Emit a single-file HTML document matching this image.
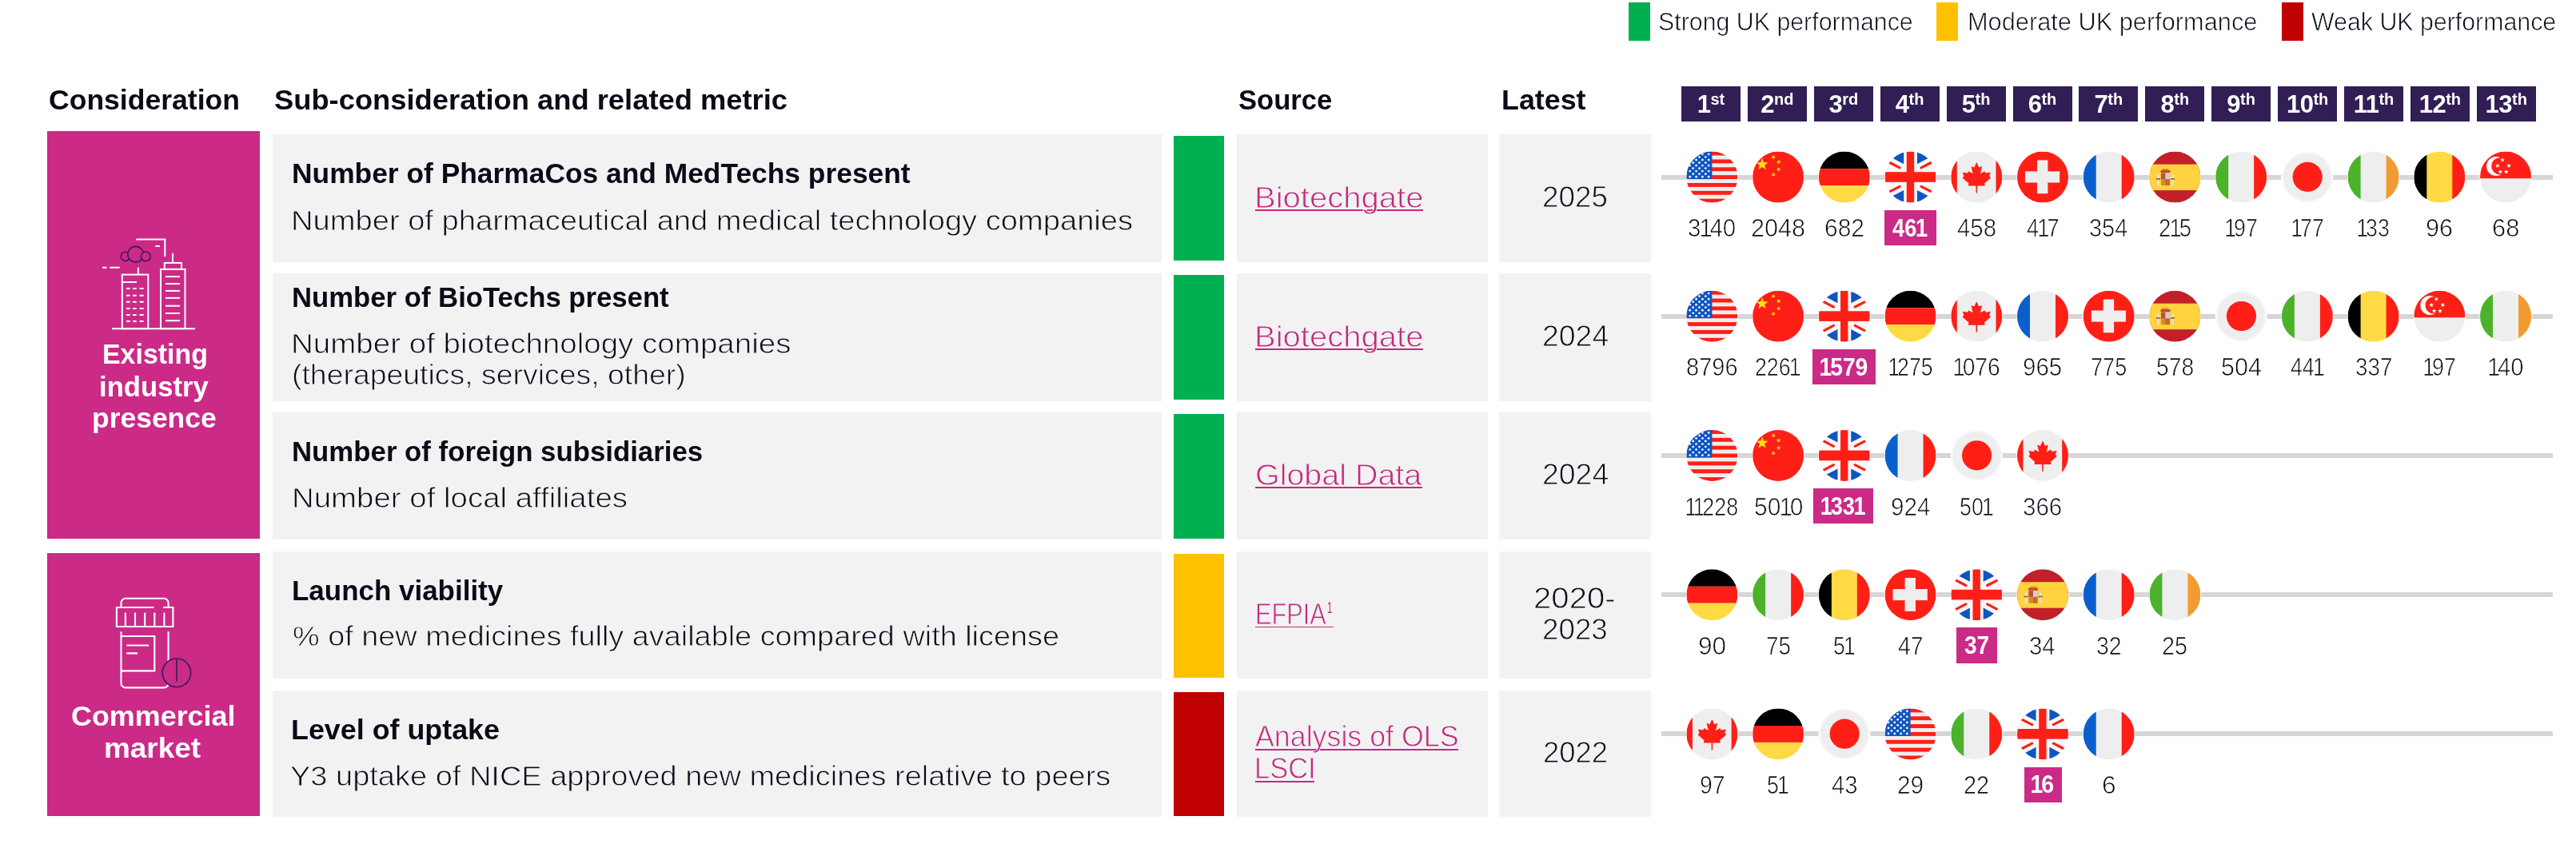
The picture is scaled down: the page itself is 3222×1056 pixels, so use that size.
<!DOCTYPE html>
<html><head><meta charset="utf-8"><title>UK performance</title>
<style>
html,body{margin:0;padding:0;background:#fff}
body{width:3222px;height:1056px;position:relative;overflow:hidden;font-family:"Liberation Sans",sans-serif}
.r{position:absolute}
.t{position:absolute;white-space:pre;line-height:1;transform-origin:0 0;font-weight:400}
.t i{font-style:normal;margin:0 -0.115em 0 -0.065em}
.t em{font-style:normal;margin:0 -0.075em 0 -0.05em}
.u{text-decoration:underline;text-decoration-thickness:1.6px;text-underline-offset:3.5px}
.b{position:absolute;top:108px;width:74px;height:43.7px;background:#311E55;color:#fff;font-weight:700;font-size:31px;line-height:45px;text-align:center;letter-spacing:-0.5px}
.b sup{font-size:20px;line-height:0;vertical-align:baseline;position:relative;top:-10.5px;letter-spacing:0}
svg{position:absolute;left:0;top:0}
</style></head><body>
<div style="position:absolute;left:0;top:0;width:3222px;height:1056px;will-change:transform">
<div class="r" style="left:59px;top:164px;width:266px;height:509.5px;background:#CB2A87"></div>
<div class="r" style="left:59px;top:692px;width:266px;height:328.5px;background:#CB2A87"></div>
<div class="r" style="left:341px;top:168px;width:1111.5px;height:159.5px;background:#F2F2F2"></div>
<div class="r" style="left:1468px;top:170px;width:63px;height:155.5px;background:#00B050"></div>
<div class="r" style="left:1547px;top:168px;width:313.70000000000005px;height:159.5px;background:#F2F2F2"></div>
<div class="r" style="left:1875px;top:168px;width:190px;height:159.5px;background:#F2F2F2"></div>
<div class="r" style="left:341px;top:342px;width:1111.5px;height:159.5px;background:#F2F2F2"></div>
<div class="r" style="left:1468px;top:344px;width:63px;height:155.5px;background:#00B050"></div>
<div class="r" style="left:1547px;top:342px;width:313.70000000000005px;height:159.5px;background:#F2F2F2"></div>
<div class="r" style="left:1875px;top:342px;width:190px;height:159.5px;background:#F2F2F2"></div>
<div class="r" style="left:341px;top:516px;width:1111.5px;height:159px;background:#F2F2F2"></div>
<div class="r" style="left:1468px;top:518px;width:63px;height:155.5px;background:#00B050"></div>
<div class="r" style="left:1547px;top:516px;width:313.70000000000005px;height:159px;background:#F2F2F2"></div>
<div class="r" style="left:1875px;top:516px;width:190px;height:159px;background:#F2F2F2"></div>
<div class="r" style="left:341px;top:690px;width:1111.5px;height:159px;background:#F2F2F2"></div>
<div class="r" style="left:1468px;top:692.5px;width:63px;height:155.0px;background:#FFC000"></div>
<div class="r" style="left:1547px;top:690px;width:313.70000000000005px;height:159px;background:#F2F2F2"></div>
<div class="r" style="left:1875px;top:690px;width:190px;height:159px;background:#F2F2F2"></div>
<div class="r" style="left:341px;top:864px;width:1111.5px;height:158px;background:#F2F2F2"></div>
<div class="r" style="left:1468px;top:866px;width:63px;height:154.5px;background:#C00000"></div>
<div class="r" style="left:1547px;top:864px;width:313.70000000000005px;height:158px;background:#F2F2F2"></div>
<div class="r" style="left:1875px;top:864px;width:190px;height:158px;background:#F2F2F2"></div>
<div class="r" style="left:2037px;top:3px;width:27px;height:47.75px;background:#00B050"></div>
<div class="r" style="left:2422px;top:3px;width:27px;height:47.75px;background:#FFC000"></div>
<div class="r" style="left:2854px;top:3px;width:27px;height:47.75px;background:#C00000"></div>
<div class="b" style="left:2103.00px">1<sup>st</sup></div>
<div class="b" style="left:2185.90px">2<sup>nd</sup></div>
<div class="b" style="left:2268.80px">3<sup>rd</sup></div>
<div class="b" style="left:2351.70px">4<sup>th</sup></div>
<div class="b" style="left:2434.60px">5<sup>th</sup></div>
<div class="b" style="left:2517.50px">6<sup>th</sup></div>
<div class="b" style="left:2600.40px">7<sup>th</sup></div>
<div class="b" style="left:2683.30px">8<sup>th</sup></div>
<div class="b" style="left:2766.20px">9<sup>th</sup></div>
<div class="b" style="left:2849.10px">10<sup>th</sup></div>
<div class="b" style="left:2932.00px">11<sup>th</sup></div>
<div class="b" style="left:3014.90px">12<sup>th</sup></div>
<div class="b" style="left:3097.80px">13<sup>th</sup></div>
<div class="r" style="left:2078px;top:218.6px;width:1115px;height:6.0px;background:#D6D6D6"></div>
<div class="r" style="left:2357px;top:262.8px;width:64.5px;height:44.19999999999999px;background:#CB2A87"></div>
<div class="r" style="left:2078px;top:392.7px;width:1115px;height:6.0px;background:#D6D6D6"></div>
<div class="r" style="left:2267px;top:436.9px;width:78.5px;height:44.200000000000045px;background:#CB2A87"></div>
<div class="r" style="left:2078px;top:567.0px;width:1115px;height:6.0px;background:#D6D6D6"></div>
<div class="r" style="left:2268px;top:611.2px;width:75px;height:44.19999999999993px;background:#CB2A87"></div>
<div class="r" style="left:2078px;top:741.2px;width:1115px;height:6.0px;background:#D6D6D6"></div>
<div class="r" style="left:2446.5px;top:785.4000000000001px;width:51.0px;height:44.19999999999993px;background:#CB2A87"></div>
<div class="r" style="left:2078px;top:915.4px;width:1115px;height:6.0px;background:#D6D6D6"></div>
<div class="r" style="left:2531.75px;top:959.6px;width:47.0px;height:44.19999999999993px;background:#CB2A87"></div>
<svg width="3222" height="1056" viewBox="0 0 3222 1056">
<defs>
<clipPath id="fc"><circle cx="32" cy="32" r="32"/></clipPath>
<g id="us"><circle cx="32" cy="32" r="32.6" fill="#fff"/><g clip-path="url(#fc)"><rect width="64" height="64" fill="#EEEEEE"/><rect x="0" y="0.000" width="64" height="4.923" fill="#FF1F17"/><rect x="0" y="9.846" width="64" height="4.923" fill="#FF1F17"/><rect x="0" y="19.692" width="64" height="4.923" fill="#FF1F17"/><rect x="0" y="29.538" width="64" height="4.923" fill="#FF1F17"/><rect x="0" y="39.385" width="64" height="4.923" fill="#FF1F17"/><rect x="0" y="49.231" width="64" height="4.923" fill="#FF1F17"/><rect x="0" y="59.077" width="64" height="4.923" fill="#FF1F17"/><rect x="0" y="0" width="32" height="34.462" fill="#0F55C0"/><circle cx="4.4" cy="3.40" r="1.35" fill="#fff"/><circle cx="12.2" cy="3.40" r="1.35" fill="#fff"/><circle cx="20.0" cy="3.40" r="1.35" fill="#fff"/><circle cx="27.8" cy="3.40" r="1.35" fill="#fff"/><circle cx="8.3" cy="6.92" r="1.35" fill="#fff"/><circle cx="16.1" cy="6.92" r="1.35" fill="#fff"/><circle cx="23.9" cy="6.92" r="1.35" fill="#fff"/><circle cx="4.4" cy="10.44" r="1.35" fill="#fff"/><circle cx="12.2" cy="10.44" r="1.35" fill="#fff"/><circle cx="20.0" cy="10.44" r="1.35" fill="#fff"/><circle cx="27.8" cy="10.44" r="1.35" fill="#fff"/><circle cx="8.3" cy="13.96" r="1.35" fill="#fff"/><circle cx="16.1" cy="13.96" r="1.35" fill="#fff"/><circle cx="23.9" cy="13.96" r="1.35" fill="#fff"/><circle cx="4.4" cy="17.48" r="1.35" fill="#fff"/><circle cx="12.2" cy="17.48" r="1.35" fill="#fff"/><circle cx="20.0" cy="17.48" r="1.35" fill="#fff"/><circle cx="27.8" cy="17.48" r="1.35" fill="#fff"/><circle cx="8.3" cy="21.00" r="1.35" fill="#fff"/><circle cx="16.1" cy="21.00" r="1.35" fill="#fff"/><circle cx="23.9" cy="21.00" r="1.35" fill="#fff"/><circle cx="4.4" cy="24.52" r="1.35" fill="#fff"/><circle cx="12.2" cy="24.52" r="1.35" fill="#fff"/><circle cx="20.0" cy="24.52" r="1.35" fill="#fff"/><circle cx="27.8" cy="24.52" r="1.35" fill="#fff"/><circle cx="8.3" cy="28.04" r="1.35" fill="#fff"/><circle cx="16.1" cy="28.04" r="1.35" fill="#fff"/><circle cx="23.9" cy="28.04" r="1.35" fill="#fff"/><circle cx="4.4" cy="31.56" r="1.35" fill="#fff"/><circle cx="12.2" cy="31.56" r="1.35" fill="#fff"/><circle cx="20.0" cy="31.56" r="1.35" fill="#fff"/><circle cx="27.8" cy="31.56" r="1.35" fill="#fff"/></g></g>
<g id="cn"><circle cx="32" cy="32" r="32.6" fill="#fff"/><g clip-path="url(#fc)"><rect width="64" height="64" fill="#FF1F17"/><polygon points="11.90,8.20 13.78,13.61 19.51,13.73 14.94,17.19 16.60,22.67 11.90,19.40 7.20,22.67 8.86,17.19 4.29,13.73 10.02,13.61" fill="#FFE11A"/><polygon points="27.50,4.40 27.10,6.51 28.93,7.62 26.80,7.89 26.31,9.98 25.40,8.04 23.26,8.22 24.83,6.75 23.99,4.77 25.87,5.81" fill="#FFE11A"/><polygon points="35.20,11.60 33.79,13.23 34.83,15.11 32.85,14.27 31.38,15.84 31.56,13.70 29.62,12.79 31.71,12.30 31.98,10.17 33.09,12.00" fill="#FFE11A"/><polygon points="32.60,19.40 33.31,21.43 35.45,21.47 33.74,22.77 34.36,24.83 32.60,23.60 30.84,24.83 31.46,22.77 29.75,21.47 31.89,21.43" fill="#FFE11A"/><polygon points="27.50,26.40 27.10,28.51 28.93,29.62 26.80,29.89 26.31,31.98 25.40,30.04 23.26,30.22 24.83,28.75 23.99,26.77 25.87,27.81" fill="#FFE11A"/></g></g>
<g id="de"><circle cx="32" cy="32" r="32.6" fill="#fff"/><g clip-path="url(#fc)"><rect width="64" height="21.6" fill="#000"/><rect y="21.6" width="64" height="21.0" fill="#FF1F17"/><rect y="42.4" width="64" height="21.6" fill="#FFDA44"/></g></g>
<g id="fr"><circle cx="32" cy="32" r="32.6" fill="#fff"/><g clip-path="url(#fc)"><rect width="64" height="64" fill="#EEEEEE"/><rect width="16" height="64" fill="#0A5FCD"/><rect x="48" width="16" height="64" fill="#FF1F17"/></g></g>
<g id="it"><circle cx="32" cy="32" r="32.6" fill="#fff"/><g clip-path="url(#fc)"><rect width="64" height="64" fill="#EEEEEE"/><rect width="16" height="64" fill="#4BB22A"/><rect x="48" width="16" height="64" fill="#FF1F17"/></g></g>
<g id="ie"><circle cx="32" cy="32" r="32.6" fill="#fff"/><g clip-path="url(#fc)"><rect width="64" height="64" fill="#EEEEEE"/><rect width="16" height="64" fill="#4BB22A"/><rect x="48" width="16" height="64" fill="#F29B30"/></g></g>
<g id="be"><circle cx="32" cy="32" r="32.6" fill="#fff"/><g clip-path="url(#fc)"><rect width="64" height="64" fill="#FFDA44"/><rect width="16" height="64" fill="#000"/><rect x="48" width="16" height="64" fill="#FF1F17"/></g></g>
<g id="ch"><circle cx="32" cy="32" r="32.6" fill="#fff"/><g clip-path="url(#fc)"><rect width="64" height="64" fill="#FF1F17"/><rect x="25" y="10.8" width="13.4" height="41.8" fill="#EEEEEE"/><rect x="10" y="24.8" width="43.2" height="14.1" fill="#EEEEEE"/></g></g>
<filter id="bl" x="-10%" y="-10%" width="120%" height="120%"><feGaussianBlur stdDeviation="0.9"/></filter>
<g id="jp"><circle cx="32" cy="32" r="32.6" fill="#fff"/><circle cx="32" cy="32" r="30.6" fill="#EEEEEE" filter="url(#bl)"/><circle cx="32.3" cy="31.8" r="18.6" fill="#FF1F17"/></g>
<g id="ca"><circle cx="32" cy="32" r="32.6" fill="#fff"/><g clip-path="url(#fc)"><rect width="64" height="64" fill="#EEEEEE"/><rect width="7.5" height="64" fill="#FF1F17"/><rect x="56.2" width="8" height="64" fill="#FF1F17"/><polygon points="32.0,13.5 35.0,19.9 38.8,18.4 36.7,27.6 42.2,24.6 43.1,27.0 49.6,26.1 47.9,30.4 49.6,33.1 41.8,39.9 42.5,43.0 32.9,43.0 32.7,52.0 31.3,52.0 31.1,43.0 21.5,43.0 22.2,39.9 14.4,33.1 16.1,30.4 14.4,26.1 20.9,27.0 21.8,24.6 27.3,27.6 25.2,18.4 29.0,19.9" fill="#FF1F17"/></g></g>
<g id="es"><circle cx="32" cy="32" r="32.6" fill="#fff"/><g clip-path="url(#fc)"><rect width="64" height="64" fill="#C1202B"/><rect y="16" width="64" height="32.5" fill="#FFD23F"/><rect x="14.5" y="27" width="11" height="15.5" rx="1.5" fill="#D98A2B"/><rect x="14.5" y="27" width="5.5" height="7.5" fill="#B5563C"/><rect x="20" y="34.5" width="5.5" height="8" fill="#C46A30"/><rect x="20" y="27" width="5.5" height="7.5" fill="#D9C7E8"/><rect x="14" y="23.3" width="12" height="3.2" rx="1" fill="#C8442A"/><rect x="16" y="21.6" width="8" height="2" fill="#D98A2B"/><rect x="9.6" y="29" width="3" height="13.8" rx="1" fill="#EADFCB"/><rect x="27.6" y="29" width="3" height="13.8" rx="1" fill="#EADFCB"/><rect x="8.6" y="33.5" width="5" height="1.6" fill="#8A5A44"/><rect x="26.6" y="33.5" width="5" height="1.6" fill="#8A5A44"/></g></g>
<g id="sg"><circle cx="32" cy="32" r="32.6" fill="#fff"/><g clip-path="url(#fc)"><rect width="64" height="64" fill="#EEEEEE"/><rect width="64" height="33.6" fill="#FF1F17"/><circle cx="20.0" cy="18.4" r="12.0" fill="#fff"/><circle cx="24.8" cy="18.2" r="10.6" fill="#FF1F17"/><polygon points="28.00,7.70 28.76,9.55 30.76,9.70 29.24,11.00 29.70,12.95 28.00,11.90 26.30,12.95 26.76,11.00 25.24,9.70 27.24,9.55" fill="#fff"/><polygon points="21.80,15.00 22.56,16.85 24.56,17.00 23.04,18.30 23.50,20.25 21.80,19.20 20.10,20.25 20.56,18.30 19.04,17.00 21.04,16.85" fill="#fff"/><polygon points="36.00,15.00 36.76,16.85 38.76,17.00 37.24,18.30 37.70,20.25 36.00,19.20 34.30,20.25 34.76,18.30 33.24,17.00 35.24,16.85" fill="#fff"/><polygon points="25.20,22.50 25.96,24.35 27.96,24.50 26.44,25.80 26.90,27.75 25.20,26.70 23.50,27.75 23.96,25.80 22.44,24.50 24.44,24.35" fill="#fff"/><polygon points="32.60,22.50 33.36,24.35 35.36,24.50 33.84,25.80 34.30,27.75 32.60,26.70 30.90,27.75 31.36,25.80 29.84,24.50 31.84,24.35" fill="#fff"/></g></g>
<g id="gb"><circle cx="32" cy="32" r="32.6" fill="#fff"/><g clip-path="url(#fc)"><rect width="64" height="64" fill="#F7F7F7"/><polygon points="15,0 23.6,0 23.6,15.6 9.0,8.0" fill="#0F55C0"/><polygon points="49,0 40.4,0 40.4,15.6 55.0,8.0" fill="#0F55C0"/><polygon points="15,64 23.6,64 23.6,48.4 9.0,56.0" fill="#0F55C0"/><polygon points="49,64 40.4,64 40.4,48.4 55.0,56.0" fill="#0F55C0"/><polygon points="0,14 0,20 6,20" fill="#0F55C0" opacity="0"/><path d="M5.3 13.4L18.6 20.3M58.7 13.4L45.4 20.3M5.3 50.6L18.6 43.7M58.7 50.6L45.4 43.7" stroke="#FF1F17" stroke-width="3.1" stroke-linecap="round" fill="none"/><rect x="27.2" y="0" width="9.4" height="64" fill="#FF1F17"/><rect x="0" y="25.6" width="64" height="12.6" fill="#FF1F17"/></g></g>
</defs>
<g fill="none" stroke="#fff" stroke-width="2" stroke-linecap="butt">
<path d="M140 411.2H244"/>
<rect x="152.8" y="343.6" width="32.5" height="67.6"/>
<path d="M172.9 334.7V343.6M153 352.9H171"/>
<path d="M158 360.9H162.6M166 360.9H170.7M174.6 360.9H179.6"/>
<path d="M158 369.8H162.6M166 369.8H170.7M174.6 369.8H179.6"/>
<path d="M158 377.8H162.6M166 377.8H170.7M174.6 377.8H179.6"/>
<path d="M158 385.9H162.6M166 385.9H170.7M174.6 385.9H179.6"/>
<path d="M158 393.9H162.6M166 393.9H170.7M174.6 393.9H179.6"/>
<path d="M158 401.9H162.6M166 401.9H170.7M174.6 401.9H179.6"/>
<rect x="201" y="336.9" width="30.5" height="74.3"/>
<rect x="205.8" y="328.9" width="21.2" height="8"/>
<path d="M216 316.8V328.9"/>
<path d="M207 346.1H225"/>
<path d="M207 355H225"/>
<path d="M207 363.9H225"/>
<path d="M207 372.8H225"/>
<path d="M207 382.7H225"/>
<path d="M207 392H225"/>
<path d="M207 401.2H225"/>
<path d="M170.2 299.6H206.3V320.9"/>
<path d="M194.2 307.9H199.9M128 334.7H133.4M137.3 334.7H149.8"/>
</g>
<g fill="#CB2A87" stroke="#3A1A5C" stroke-width="1.6"><circle cx="156.9" cy="320.9" r="5.7"/><circle cx="169.7" cy="318.2" r="9.8"/><circle cx="182.3" cy="320.9" r="5.9"/></g>
<g fill="none" stroke="#fff" stroke-width="2.1">
<path d="M151.5 760V754.3a5.5 5.5 0 0 1 5.5-5.5H205.1a5.5 5.5 0 0 1 5.5 5.5V760"/>
<path d="M192.4 760H145.9V784H216.4V760H204"/>
<path d="M156.9 766.6V784"/>
<path d="M169 766.6V784"/>
<path d="M181.2 766.6V784"/>
<path d="M193.3 766.6V784"/>
<path d="M205.4 766.6V784"/>
<path d="M151.5 790.2V854.9a5.5 5.5 0 0 0 5.5 5.5H205.1a5.5 5.5 0 0 0 5.5-5.5V790.2"/>
<path d="M151.5 796H193.3V839.4H151.5"/>
<path d="M158.3 807.5H186.2M158.3 817.4H172"/>
</g>
<circle cx="220.9" cy="841.8" r="17.8" fill="#CB2A87" stroke="#3A1A5C" stroke-width="1.6"/><path d="M220.9 824.9V852.4" stroke="#3A1A5C" stroke-width="1.6"/>
<use href="#us" x="2109.40" y="189.60"/>
<use href="#cn" x="2192.12" y="189.60"/>
<use href="#de" x="2274.84" y="189.60"/>
<use href="#gb" x="2357.56" y="189.60"/>
<use href="#ca" x="2440.28" y="189.60"/>
<use href="#ch" x="2523.00" y="189.60"/>
<use href="#fr" x="2605.72" y="189.60"/>
<use href="#es" x="2688.44" y="189.60"/>
<use href="#it" x="2771.16" y="189.60"/>
<use href="#jp" x="2853.88" y="189.60"/>
<use href="#ie" x="2936.60" y="189.60"/>
<use href="#be" x="3019.32" y="189.60"/>
<use href="#sg" x="3102.04" y="189.60"/>
<use href="#us" x="2109.40" y="363.70"/>
<use href="#cn" x="2192.12" y="363.70"/>
<use href="#gb" x="2274.84" y="363.70"/>
<use href="#de" x="2357.56" y="363.70"/>
<use href="#ca" x="2440.28" y="363.70"/>
<use href="#fr" x="2523.00" y="363.70"/>
<use href="#ch" x="2605.72" y="363.70"/>
<use href="#es" x="2688.44" y="363.70"/>
<use href="#jp" x="2771.16" y="363.70"/>
<use href="#it" x="2853.88" y="363.70"/>
<use href="#be" x="2936.60" y="363.70"/>
<use href="#sg" x="3019.32" y="363.70"/>
<use href="#ie" x="3102.04" y="363.70"/>
<use href="#us" x="2109.40" y="538.00"/>
<use href="#cn" x="2192.12" y="538.00"/>
<use href="#gb" x="2274.84" y="538.00"/>
<use href="#fr" x="2357.56" y="538.00"/>
<use href="#jp" x="2440.28" y="538.00"/>
<use href="#ca" x="2523.00" y="538.00"/>
<use href="#de" x="2109.40" y="712.20"/>
<use href="#it" x="2192.12" y="712.20"/>
<use href="#be" x="2274.84" y="712.20"/>
<use href="#ch" x="2357.56" y="712.20"/>
<use href="#gb" x="2440.28" y="712.20"/>
<use href="#es" x="2523.00" y="712.20"/>
<use href="#fr" x="2605.72" y="712.20"/>
<use href="#ie" x="2688.44" y="712.20"/>
<use href="#ca" x="2109.40" y="886.40"/>
<use href="#de" x="2192.12" y="886.40"/>
<use href="#jp" x="2274.84" y="886.40"/>
<use href="#us" x="2357.56" y="886.40"/>
<use href="#it" x="2440.28" y="886.40"/>
<use href="#gb" x="2523.00" y="886.40"/>
<use href="#fr" x="2605.72" y="886.40"/>
</svg>
<span class="t" style="left:60.65px;top:106.00px;font-size:35px;color:#0B0B18;transform:translateY(0.60px) scaleX(1.0157);font-weight:700">Consideration</span>
<span class="t" style="left:343.16px;top:107.00px;font-size:35px;color:#0B0B18;transform:translateY(0.00px) scaleX(1.0381);font-weight:700">Sub-consideration and related metric</span>
<span class="t" style="left:1549.01px;top:107.00px;font-size:35px;color:#0B0B18;transform:translateY(0.00px) scaleX(0.9885);font-weight:700">Source</span>
<span class="t" style="left:1877.91px;top:107.00px;font-size:35px;color:#0B0B18;transform:translateY(0.00px) scaleX(1.0236);font-weight:700">Latest</span>
<span class="t" style="left:2073.52px;top:11.00px;font-size:30.6px;color:#0B0B18;transform:translateY(0.80px) scaleX(0.9916);-webkit-text-stroke:0.70px #fff">Strong UK performance</span>
<span class="t" style="left:2460.98px;top:11.00px;font-size:30.6px;color:#0B0B18;transform:translateY(0.80px) scaleX(1.0052);-webkit-text-stroke:0.70px #fff">Moderate UK performance</span>
<span class="t" style="left:2891.34px;top:11.00px;font-size:30.6px;color:#0B0B18;transform:translateY(0.80px) scaleX(0.9913);-webkit-text-stroke:0.70px #fff">Weak UK performance</span>
<span class="t" style="left:364.98px;top:200.00px;font-size:35.5px;color:#0B0B18;transform:translateY(0.10px) scaleX(0.9962);font-weight:700">Number of PharmaCos and MedTechs present</span>
<span class="t" style="left:364.22px;top:258.00px;font-size:35.5px;color:#0B0B18;transform:translateY(0.50px) scaleX(1.0738);-webkit-text-stroke:0.81px #F2F2F2">Number of pharmaceutical and medical technology companies</span>
<span class="t" style="left:364.92px;top:354.00px;font-size:35.5px;color:#0B0B18;transform:translateY(0.70px) scaleX(0.9773);font-weight:700">Number of BioTechs present</span>
<span class="t" style="left:364.28px;top:413.00px;font-size:35.5px;color:#0B0B18;transform:translateY(0.10px) scaleX(1.0854);-webkit-text-stroke:0.81px #F2F2F2">Number of biotechnology companies</span>
<span class="t" style="left:365.09px;top:452.00px;font-size:35.5px;color:#0B0B18;transform:translateY(0.10px) scaleX(1.0536);-webkit-text-stroke:0.81px #F2F2F2">(therapeutics, services, other)</span>
<span class="t" style="left:365.21px;top:548.00px;font-size:35.5px;color:#0B0B18;transform:translateY(0.30px) scaleX(0.9798);font-weight:700">Number of foreign subsidiaries</span>
<span class="t" style="left:364.59px;top:605.00px;font-size:35.5px;color:#0B0B18;transform:translateY(0.80px) scaleX(1.0822);-webkit-text-stroke:0.81px #F2F2F2">Number of local affiliates</span>
<span class="t" style="left:365.10px;top:722.00px;font-size:35.5px;color:#0B0B18;transform:translateY(0.40px) scaleX(0.9847);font-weight:700">Launch viability</span>
<span class="t" style="left:366.22px;top:779.00px;font-size:35.5px;color:#0B0B18;transform:translateY(0.30px) scaleX(1.0658);-webkit-text-stroke:0.81px #F2F2F2">% of new medicines fully available compared with license</span>
<span class="t" style="left:364.14px;top:895.00px;font-size:35.5px;color:#0B0B18;transform:translateY(0.90px) scaleX(1.0098);font-weight:700">Level of uptake</span>
<span class="t" style="left:363.42px;top:954.00px;font-size:35.5px;color:#0B0B18;transform:translateY(0.10px) scaleX(1.0702);-webkit-text-stroke:0.81px #F2F2F2">Y3 uptake of NICE approved new medicines relative to peers</span>
<span class="t" style="left:127.74px;top:425.00px;font-size:35px;color:#fff;transform:translateY(0.40px) scaleX(0.9685);font-weight:700">Existing</span>
<span class="t" style="left:124.19px;top:465.00px;font-size:35px;color:#fff;transform:translateY(0.70px) scaleX(0.9901);font-weight:700">industry</span>
<span class="t" style="left:114.84px;top:505.00px;font-size:35px;color:#fff;transform:translateY(0.00px) scaleX(1.0131);font-weight:700">presence</span>
<span class="t" style="left:89.43px;top:877.00px;font-size:35px;color:#fff;transform:translateY(0.70px) scaleX(1.0256);font-weight:700">Commercial</span>
<span class="t" style="left:130.44px;top:918.00px;font-size:35px;color:#fff;transform:translateY(0.00px) scaleX(1.0545);font-weight:700">market</span>
<div class="r" style="left:1570.0px;top:262.4px;width:210.2px;height:1.7px;background:#C4297F"></div>
<span class="t" style="left:1569.34px;top:229.00px;font-size:36.5px;color:#C4297F;transform:translateY(0.80px) scaleX(1.0970);-webkit-text-stroke:0.83px #F2F2F2">Biotechgate</span>
<div class="r" style="left:1570.0px;top:436.4px;width:210.2px;height:1.7px;background:#C4297F"></div>
<span class="t" style="left:1569.34px;top:403.00px;font-size:36.5px;color:#C4297F;transform:translateY(0.80px) scaleX(1.0970);-webkit-text-stroke:0.83px #F2F2F2">Biotechgate</span>
<div class="r" style="left:1570.0px;top:609.3px;width:209.4px;height:1.7px;background:#C4297F"></div>
<span class="t" style="left:1569.88px;top:576.00px;font-size:36.5px;color:#C4297F;transform:translateY(0.70px) scaleX(1.0805);-webkit-text-stroke:0.83px #F2F2F2">Global Data</span>
<div class="r" style="left:1570.0px;top:783.6px;width:98.3px;height:1.7px;background:#C4297F"></div>
<span class="t" style="left:1570.39px;top:751.00px;font-size:36.5px;color:#C4297F;transform:translateY(0.00px) scaleX(0.8428);-webkit-text-stroke:0.83px #F2F2F2">EFPIA</span>
<span class="t" style="left:1659.99px;top:748.00px;font-size:21px;color:#C4297F;transform:translateY(0.90px) scaleX(0.5444)">1</span>
<div class="r" style="left:1569.9px;top:936.9px;width:254.3px;height:1.7px;background:#C4297F"></div>
<span class="t" style="left:1570.05px;top:904.00px;font-size:36.5px;color:#C4297F;transform:translateY(0.30px) scaleX(0.9802);-webkit-text-stroke:0.83px #F2F2F2">Analysis of OLS</span>
<div class="r" style="left:1569.9px;top:976.9px;width:74.1px;height:1.7px;background:#C4297F"></div>
<span class="t" style="left:1569.35px;top:944.00px;font-size:36.5px;color:#C4297F;transform:translateY(0.30px) scaleX(0.9446);-webkit-text-stroke:0.83px #F2F2F2">LSCI</span>
<span class="t" style="left:1928.58px;top:228.00px;font-size:37px;color:#0B0B18;transform:translateY(0.30px) scaleX(0.9962);-webkit-text-stroke:0.85px #F2F2F2">2025</span>
<span class="t" style="left:1928.84px;top:402.00px;font-size:37px;color:#0B0B18;transform:translateY(0.30px) scaleX(1.0111);-webkit-text-stroke:0.85px #F2F2F2">2024</span>
<span class="t" style="left:1928.84px;top:575.00px;font-size:37px;color:#0B0B18;transform:translateY(0.20px) scaleX(1.0111);-webkit-text-stroke:0.85px #F2F2F2">2024</span>
<span class="t" style="left:1917.87px;top:730.00px;font-size:37px;color:#0B0B18;transform:translateY(0.30px) scaleX(1.0849);-webkit-text-stroke:0.85px #F2F2F2">2020-</span>
<span class="t" style="left:1928.58px;top:768.00px;font-size:37px;color:#0B0B18;transform:translateY(0.90px) scaleX(0.9936);-webkit-text-stroke:0.85px #F2F2F2">2023</span>
<span class="t" style="left:1930.10px;top:923.00px;font-size:37px;color:#0B0B18;transform:translateY(0.30px) scaleX(0.9850);-webkit-text-stroke:0.85px #F2F2F2">2022</span>
<span class="t" style="left:2111.32px;top:270.00px;font-size:31px;color:#0B0B18;transform:translateY(0.10px) scaleX(0.9500);-webkit-text-stroke:0.71px #fff">3<i>1</i>40</span>
<span class="t" style="left:2189.90px;top:270.00px;font-size:31px;color:#0B0B18;transform:translateY(0.10px) scaleX(0.9872);-webkit-text-stroke:0.71px #fff">2048</span>
<span class="t" style="left:2281.91px;top:270.00px;font-size:31px;color:#0B0B18;transform:translateY(0.10px) scaleX(0.9650);-webkit-text-stroke:0.71px #fff">682</span>
<span class="t" style="left:2367.46px;top:269.00px;font-size:31px;color:#fff;transform:translateY(0.50px) scaleX(0.8776);font-weight:700">46<em>1</em></span>
<span class="t" style="left:2448.08px;top:270.00px;font-size:31px;color:#0B0B18;transform:translateY(0.10px) scaleX(0.9490);-webkit-text-stroke:0.71px #fff">458</span>
<span class="t" style="left:2535.12px;top:270.00px;font-size:31px;color:#0B0B18;transform:translateY(0.10px) scaleX(0.8769);-webkit-text-stroke:0.71px #fff">4<i>1</i>7</span>
<span class="t" style="left:2613.41px;top:270.00px;font-size:31px;color:#0B0B18;transform:translateY(0.10px) scaleX(0.9349);-webkit-text-stroke:0.71px #fff">354</span>
<span class="t" style="left:2699.92px;top:270.00px;font-size:31px;color:#0B0B18;transform:translateY(0.10px) scaleX(0.8858);-webkit-text-stroke:0.71px #fff">2<i>1</i>5</span>
<span class="t" style="left:2783.81px;top:270.00px;font-size:31px;color:#0B0B18;transform:translateY(0.10px) scaleX(0.8600);-webkit-text-stroke:0.71px #fff"><i>1</i>97</span>
<span class="t" style="left:2866.53px;top:270.00px;font-size:31px;color:#0B0B18;transform:translateY(0.10px) scaleX(0.8600);-webkit-text-stroke:0.71px #fff"><i>1</i>77</span>
<span class="t" style="left:2949.25px;top:270.00px;font-size:31px;color:#0B0B18;transform:translateY(0.10px) scaleX(0.8600);-webkit-text-stroke:0.71px #fff"><i>1</i>33</span>
<span class="t" style="left:3034.43px;top:270.00px;font-size:31px;color:#0B0B18;transform:translateY(0.10px) scaleX(0.9839);-webkit-text-stroke:0.71px #fff">96</span>
<span class="t" style="left:3116.80px;top:270.00px;font-size:31px;color:#0B0B18;transform:translateY(0.10px) scaleX(0.9946);-webkit-text-stroke:0.71px #fff">68</span>
<span class="t" style="left:2109.09px;top:444.00px;font-size:31px;color:#0B0B18;transform:translateY(0.20px) scaleX(0.9365);-webkit-text-stroke:0.71px #fff">8796</span>
<span class="t" style="left:2195.31px;top:444.00px;font-size:31px;color:#0B0B18;transform:translateY(0.20px) scaleX(0.8600);-webkit-text-stroke:0.71px #fff">226<i>1</i></span>
<span class="t" style="left:2276.95px;top:443.00px;font-size:31px;color:#fff;transform:translateY(0.60px) scaleX(0.9110);font-weight:700"><em>1</em>579</span>
<span class="t" style="left:2362.76px;top:444.00px;font-size:31px;color:#0B0B18;transform:translateY(0.20px) scaleX(0.8600);-webkit-text-stroke:0.71px #fff"><i>1</i>275</span>
<span class="t" style="left:2443.92px;top:444.00px;font-size:31px;color:#0B0B18;transform:translateY(0.20px) scaleX(0.9098);-webkit-text-stroke:0.71px #fff"><i>1</i>076</span>
<span class="t" style="left:2530.41px;top:444.00px;font-size:31px;color:#0B0B18;transform:translateY(0.20px) scaleX(0.9517);-webkit-text-stroke:0.71px #fff">965</span>
<span class="t" style="left:2614.97px;top:444.00px;font-size:31px;color:#0B0B18;transform:translateY(0.20px) scaleX(0.8750);-webkit-text-stroke:0.71px #fff">775</span>
<span class="t" style="left:2696.92px;top:444.00px;font-size:31px;color:#0B0B18;transform:translateY(0.20px) scaleX(0.9103);-webkit-text-stroke:0.71px #fff">578</span>
<span class="t" style="left:2777.52px;top:444.00px;font-size:31px;color:#0B0B18;transform:translateY(0.20px) scaleX(0.9863);-webkit-text-stroke:0.71px #fff">504</span>
<span class="t" style="left:2864.77px;top:444.00px;font-size:31px;color:#0B0B18;transform:translateY(0.20px) scaleX(0.8617);-webkit-text-stroke:0.71px #fff">44<i>1</i></span>
<span class="t" style="left:2945.61px;top:444.00px;font-size:31px;color:#0B0B18;transform:translateY(0.20px) scaleX(0.8958);-webkit-text-stroke:0.71px #fff">337</span>
<span class="t" style="left:3031.97px;top:444.00px;font-size:31px;color:#0B0B18;transform:translateY(0.20px) scaleX(0.8600);-webkit-text-stroke:0.71px #fff"><i>1</i>97</span>
<span class="t" style="left:3112.66px;top:444.00px;font-size:31px;color:#0B0B18;transform:translateY(0.20px) scaleX(0.9432);-webkit-text-stroke:0.71px #fff"><i>1</i>40</span>
<span class="t" style="left:2109.32px;top:618.00px;font-size:31px;color:#0B0B18;transform:translateY(0.50px) scaleX(0.8670);-webkit-text-stroke:0.71px #fff"><i>1</i><i>1</i>228</span>
<span class="t" style="left:2193.51px;top:618.00px;font-size:31px;color:#0B0B18;transform:translateY(0.50px) scaleX(0.9667);-webkit-text-stroke:0.71px #fff">50<i>1</i>0</span>
<span class="t" style="left:2277.96px;top:617.00px;font-size:31px;color:#fff;transform:translateY(0.90px) scaleX(0.8743);font-weight:700"><em>1</em>33<em>1</em></span>
<span class="t" style="left:2364.72px;top:618.00px;font-size:31px;color:#0B0B18;transform:translateY(0.50px) scaleX(0.9555);-webkit-text-stroke:0.71px #fff">924</span>
<span class="t" style="left:2450.84px;top:618.00px;font-size:31px;color:#0B0B18;transform:translateY(0.50px) scaleX(0.8633);-webkit-text-stroke:0.71px #fff">50<i>1</i></span>
<span class="t" style="left:2530.41px;top:618.00px;font-size:31px;color:#0B0B18;transform:translateY(0.50px) scaleX(0.9517);-webkit-text-stroke:0.71px #fff">366</span>
<span class="t" style="left:2123.70px;top:792.00px;font-size:31px;color:#0B0B18;transform:translateY(0.70px) scaleX(1.0213);-webkit-text-stroke:0.71px #fff">90</span>
<span class="t" style="left:2208.58px;top:792.00px;font-size:31px;color:#0B0B18;transform:translateY(0.70px) scaleX(0.8967);-webkit-text-stroke:0.71px #fff">75</span>
<span class="t" style="left:2292.94px;top:792.00px;font-size:31px;color:#0B0B18;transform:translateY(0.70px) scaleX(0.8600);-webkit-text-stroke:0.71px #fff">5<i>1</i></span>
<span class="t" style="left:2374.14px;top:792.00px;font-size:31px;color:#0B0B18;transform:translateY(0.70px) scaleX(0.9158);-webkit-text-stroke:0.71px #fff">47</span>
<span class="t" style="left:2456.77px;top:792.00px;font-size:31px;color:#fff;transform:translateY(0.10px) scaleX(0.9046);font-weight:700">37</span>
<span class="t" style="left:2538.42px;top:792.00px;font-size:31px;color:#0B0B18;transform:translateY(0.70px) scaleX(0.9474);-webkit-text-stroke:0.71px #fff">34</span>
<span class="t" style="left:2621.94px;top:792.00px;font-size:31px;color:#0B0B18;transform:translateY(0.70px) scaleX(0.9194);-webkit-text-stroke:0.71px #fff">32</span>
<span class="t" style="left:2704.33px;top:792.00px;font-size:31px;color:#0B0B18;transform:translateY(0.70px) scaleX(0.9293);-webkit-text-stroke:0.71px #fff">25</span>
<span class="t" style="left:2125.62px;top:966.00px;font-size:31px;color:#0B0B18;transform:translateY(0.90px) scaleX(0.9194);-webkit-text-stroke:0.71px #fff">97</span>
<span class="t" style="left:2210.22px;top:966.00px;font-size:31px;color:#0B0B18;transform:translateY(0.90px) scaleX(0.8600);-webkit-text-stroke:0.71px #fff">5<i>1</i></span>
<span class="t" style="left:2290.89px;top:966.00px;font-size:31px;color:#0B0B18;transform:translateY(0.90px) scaleX(0.9474);-webkit-text-stroke:0.71px #fff">43</span>
<span class="t" style="left:2372.89px;top:966.00px;font-size:31px;color:#0B0B18;transform:translateY(0.90px) scaleX(0.9620);-webkit-text-stroke:0.71px #fff">29</span>
<span class="t" style="left:2456.17px;top:966.00px;font-size:31px;color:#0B0B18;transform:translateY(0.90px) scaleX(0.9293);-webkit-text-stroke:0.71px #fff">22</span>
<span class="t" style="left:2541.44px;top:966.00px;font-size:31px;color:#fff;transform:translateY(0.30px) scaleX(0.9205);font-weight:700"><em>1</em>6</span>
<span class="t" style="left:2628.67px;top:966.00px;font-size:31px;color:#0B0B18;transform:translateY(0.90px) scaleX(1.0244);-webkit-text-stroke:0.71px #fff">6</span>
</div>
</body></html>
